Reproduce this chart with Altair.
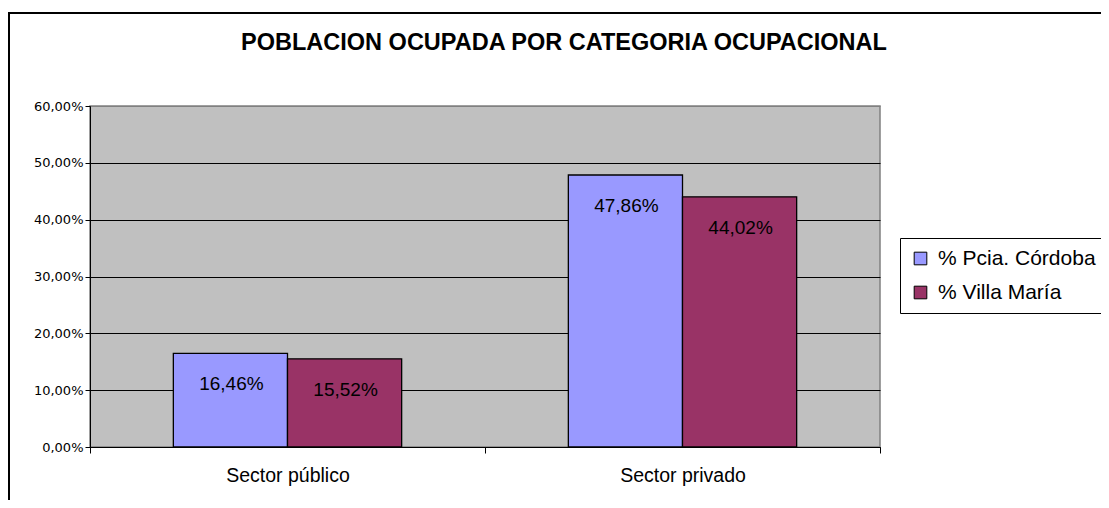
import altair as alt
import pandas as pd

categories = ["Sector público", "Sector privado"]
series = ["% Pcia. Córdoba", "% Villa María"]
cordoba = [0.1646, 0.4786]
villa_maria = [0.1552, 0.4402]
title_text = "POBLACION OCUPADA POR CATEGORIA OCUPACIONAL"

rows = []
for i, c in enumerate(categories):
    rows.append({"cat": c, "serie": series[0], "val": cordoba[i]})
    rows.append({"cat": c, "serie": series[1], "val": villa_maria[i]})
df = pd.DataFrame(rows)

W, H = 790, 341
FONT_AX = "DejaVu Sans"
FONT = "Liberation Sans"

x_enc = alt.X("cat:N", sort=categories, title=None,
              scale=alt.Scale(paddingInner=0, paddingOuter=0),
              axis=alt.Axis(labelAngle=0, tickBand="extent", tickSize=6, tickColor="black",
                            domainColor="black", labelFont=FONT, labelFontSize=19.5,
                            labelColor="black", labelPadding=13))
xoff = alt.XOffset("serie:N", sort=series,
                   scale=alt.Scale(paddingInner=0, paddingOuter=0.73))
y_enc = alt.Y("val:Q", title=None,
              scale=alt.Scale(domain=[0, 0.6], nice=False),
              axis=alt.Axis(values=[0, 0.1, 0.2, 0.3, 0.4, 0.5, 0.6],
                            labelExpr="replace(format(datum.value, '.2%'), '.', ',')",
                            grid=True,
                            gridColor={"expr": "datum.value >= 0.6 ? '#808080' : '#000000'"},
                            gridWidth=1, domainColor="black", tickColor="black",
                            tickSize=5, labelFont=FONT_AX, labelFontSize=13,
                            labelColor="black", labelPadding=2))

bars = alt.Chart(df).mark_bar(stroke="black", strokeWidth=1.3).encode(
    x=x_enc, xOffset=xoff, y=y_enc,
    color=alt.Color("serie:N", sort=series,
                    scale=alt.Scale(domain=series, range=["#9999FF", "#993366"]),
                    legend=alt.Legend(title=None, orient="none", legendX=810, legendY=132,
                                      strokeColor="black", fillColor="white", padding=10,
                                      symbolType="square", symbolSize=160,
                                      symbolStrokeColor="black", symbolStrokeWidth=1,
                                      labelFont=FONT, labelFontSize=21, labelColor="black",
                                      rowPadding=12, labelOffset=7, labelLimit=400)),
)

labels = alt.Chart(df).mark_text(font=FONT, fontSize=19, color="black",
                                 baseline="middle", dy=31, dx=1).encode(
    x=alt.X("cat:N", sort=categories), xOffset=xoff,
    y=alt.Y("val:Q"),
    text=alt.Text("lbl:N"),
).transform_calculate(lbl="replace(format(datum.val, '.2%'), '.', ',')")

deco = pd.DataFrame({"t": [title_text]})
border = alt.Chart(deco).mark_rect(
    fill=None, stroke="black", strokeWidth=2).encode(
    x=alt.value(-81), y=alt.value(-93), x2=alt.value(W + 250), y2=alt.value(H + 80))

title = alt.Chart(deco).mark_text(font=FONT, fontSize=23.5, fontWeight="bold", color="black",
                                  align="center", baseline="alphabetic").encode(
    x=alt.value(474), y=alt.value(-56), text="t:N")

chart = alt.layer(bars, labels, border, title).properties(
    width=W, height=H,
    autosize=alt.AutoSizeParams(type="none"),
    padding={"left": 82, "top": 98, "right": 221, "bottom": 53},
    background="white",
).configure_view(fill="#C0C0C0", stroke="#808080", strokeWidth=1.5)

chart.save("out.html", embed_options={"renderer": "svg", "actions": False})
